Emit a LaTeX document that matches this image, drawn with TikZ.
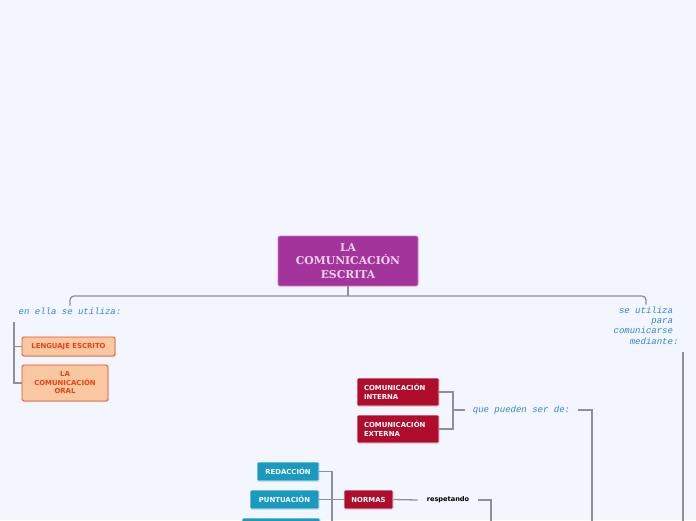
\documentclass[tikz,border=0pt]{standalone}
\usepackage{fontspec}
\setmainfont{DejaVu Sans}
\newfontfamily\rootfont{DejaVu Serif}
\newfontfamily\lblfont{Liberation Mono}
\usepackage{tikz}
\usetikzlibrary{positioning,shadows}
\usepackage{xcolor}
\definecolor{bgblue}{RGB}{243,246,254}
\definecolor{rootpurple}{RGB}{162,52,156}
\definecolor{rootedge}{RGB}{214,120,210}
\definecolor{roottext}{RGB}{246,210,240}
\definecolor{peach}{RGB}{248,200,160}
\definecolor{peachedge}{RGB}{240,76,30}
\definecolor{peachtext}{RGB}{240,62,22}
\definecolor{darkred}{RGB}{176,12,44}
\definecolor{teal}{RGB}{26,154,192}
\definecolor{linegray}{RGB}{142,144,152}
\definecolor{lblblue}{RGB}{46,134,222}

\begin{document}
\begin{tikzpicture}[x=1pt, y=-1pt, every node/.style={font=\bfseries\fontsize{6.9}{8.5}\selectfont}]
\tikzset{conn/.style={draw=linegray, line width=1.3pt},
  lbl/.style={font=\lblfont\itshape\fontsize{9}{10.3}\selectfont, text=lblblue, inner xsep=8pt, inner ysep=2pt},
  orangebox/.style={draw=peachedge, fill=peach, text=peachtext, line width=0.9pt, rounded corners=1.5pt, align=center, drop shadow={opacity=0.25, shadow xshift=0.6pt, shadow yshift=-0.8pt}},
  redbox/.style={draw=white, fill=darkred, text=white, line width=0.7pt, rounded corners=1pt, drop shadow={opacity=0.3, shadow xshift=0.6pt, shadow yshift=-0.8pt}},
  tealbox/.style={draw=white, fill=teal, text=white, line width=0.7pt, rounded corners=1pt, minimum height=19pt, drop shadow={opacity=0.3, shadow xshift=0.6pt, shadow yshift=-0.8pt}}}
\useasboundingbox (0,0) rectangle (696,520);
\fill[bgblue] (0,0) rectangle (696,520);
\clip (0,0) rectangle (696,520);

\node[draw=rootedge, fill=rootpurple, text=roottext, line width=0.8pt, rounded corners=2pt, minimum width=140pt, minimum height=50pt, align=center, font=\rootfont\bfseries\fontsize{10.8}{13.5}\selectfont] (root) at (348,261) {LA\\COMUNICACIÓN\\ESCRITA};
\coordinate (bus) at (348,296);

\node[lbl] (utiliza) at (70,311) {en ella se utiliza:};
\node[lbl, align=right, inner xsep=2pt] (mediante) at (646,325.5) {se utiliza\phantom{:}\\para\phantom{:}\\comunicarse\phantom{:}\\mediante:};
\draw[conn] (root) -- (bus);
\draw[conn, rounded corners=4pt] (utiliza.north) |- (bus) -| (mediante.north);

\node[orangebox, minimum width=93pt, minimum height=19pt] (lengua) at (68.5,346.5) {LENGUAJE ESCRITO};
\node[orangebox, minimum width=86pt, minimum height=36pt] (oral) at (65,383) {LA\\COMUNICACIÓN\\ORAL};
\coordinate (lt) at (14,322);
\draw[conn] (lt) |- (oral);
\draw[conn] (lt |- lengua) -- (lengua);

\coordinate (rt) at (683,352);
\coordinate (rb) at (683,530);
\draw[conn] (rt) -- (rb);

\node[redbox, minimum width=82pt, minimum height=28pt, text width=68pt, align=left, inner xsep=7pt, font=\bfseries\fontsize{6.9}{9}\selectfont] (interna) at (398,392) {COMUNICACIÓN\\INTERNA};
\node[redbox, minimum width=82pt, minimum height=28pt, text width=68pt, align=left, inner xsep=7pt, font=\bfseries\fontsize{6.9}{9}\selectfont] (externa) at (398,429) {COMUNICACIÓN\\EXTERNA};
\node[lbl] (pueden) at (521.5,410) {que pueden ser de:};
\coordinate (qb) at (453,410);
\coordinate (qd) at (592,530);
\draw[conn] (interna.east) -| (qb) |- (externa.east);
\draw[conn] (qb) -- (pueden.west);
\draw[conn] (pueden.east) -| (qd);

\node[tealbox, minimum width=62pt] (redaccion) at (288,471.5) {REDACCIÓN};
\node[tealbox, minimum width=69pt] (puntuacion) at (284.5,499.5) {PUNTUACIÓN};
\node[tealbox, minimum width=78pt] (tercero) at (281,527.5) {};
\node[redbox, minimum width=49pt, minimum height=19pt] (normas) at (368.5,499.5) {NORMAS};
\node[inner xsep=9pt, text=black, font=\bfseries\fontsize{6.6}{8}\selectfont] (respetando) at (448,500) {respetando};
\coordinate (td) at (332,530);
\coordinate (rd) at (491,530);
\draw[conn] (redaccion.east) -| (td);
\draw[conn] (puntuacion.east) -- (normas.west);
\draw[conn] (normas.east) -- (respetando.west);
\draw[conn] (respetando.east) -| (rd);
\end{tikzpicture}
\end{document}
